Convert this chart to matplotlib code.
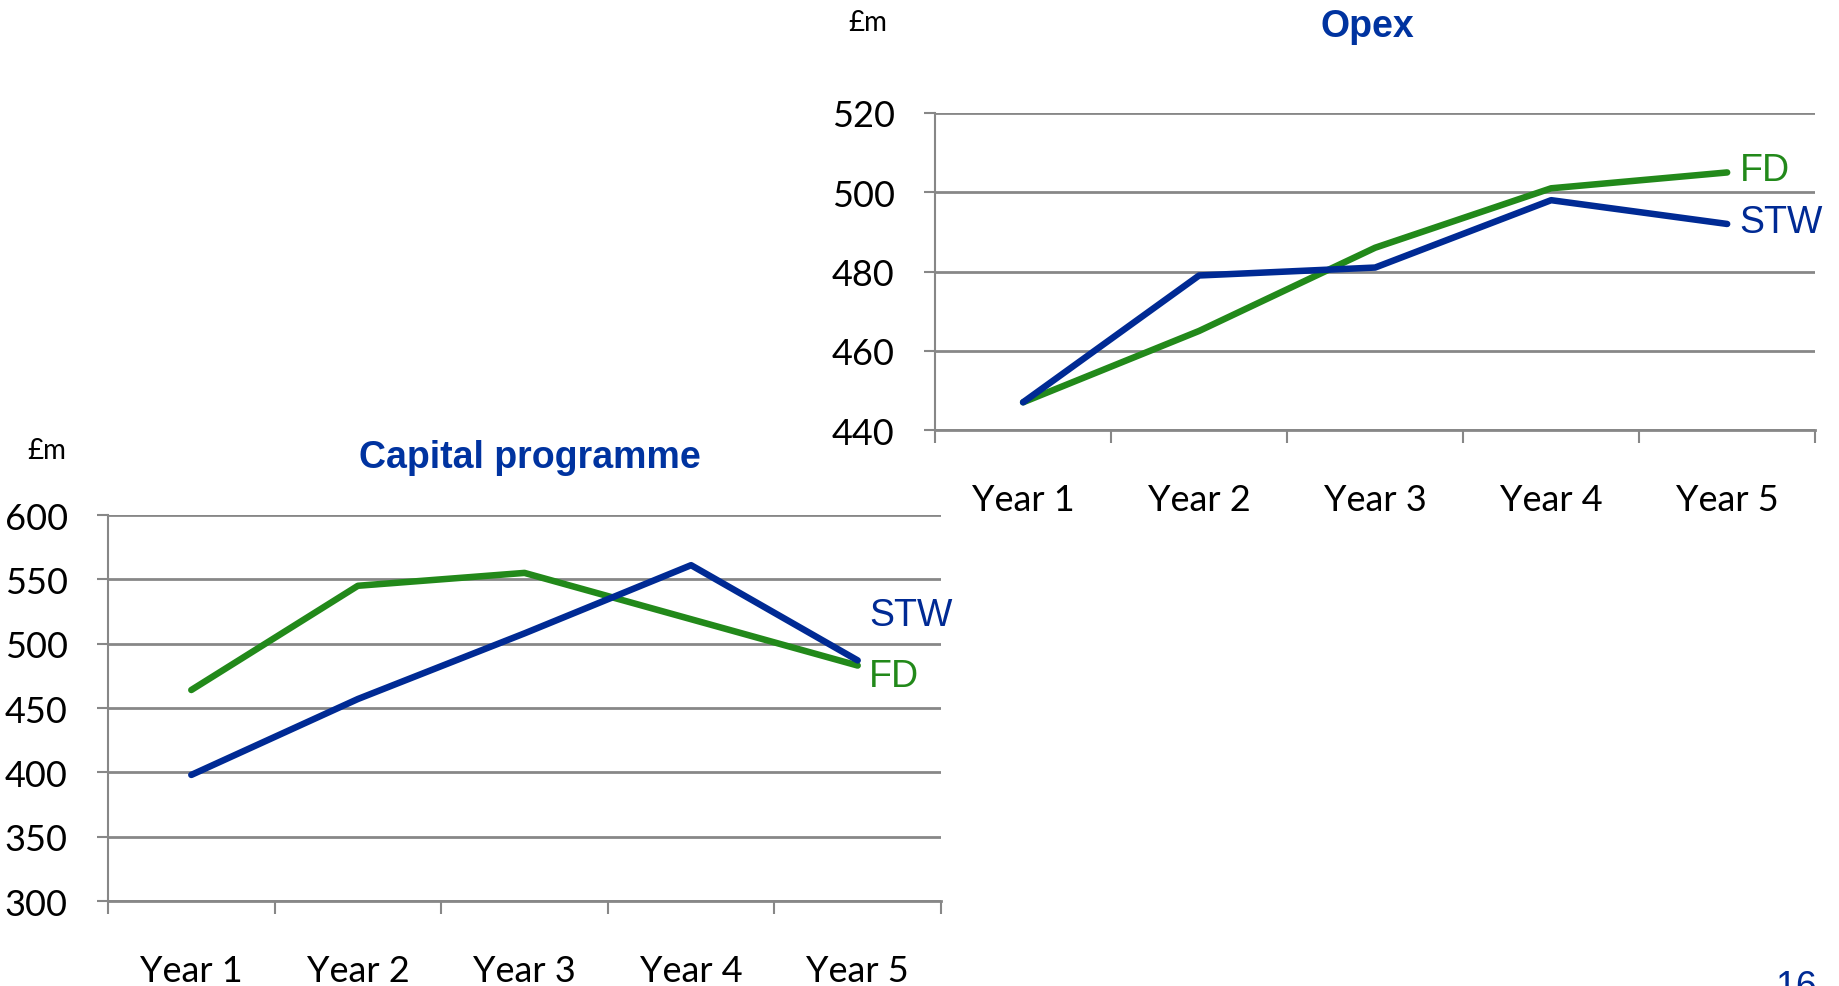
import matplotlib.pyplot as plt
import numpy as np

years = ["Year 1", "Year 2", "Year 3", "Year 4", "Year 5"]

opex_fd = [447, 465, 486, 501, 505]
opex_stw = [447, 479, 481, 498, 492]
opex_ticks = [440, 460, 480, 500, 520]

capex_fd = [464, 545, 555, 519, 483]
capex_stw = [398, 457, 508, 561, 487]
capex_ticks = [300, 350, 400, 450, 500, 550, 600]

green = "#22891a"
blue = "#002a94"
title_blue = "#0033a0"
grid_col = "#878787"
narrow = ["Lato", "DejaVu Sans"]
arial = ["Liberation Sans", "DejaVu Sans"]

fig = plt.figure(figsize=(18.4, 9.87), dpi=100)


def draw(ax, fd, stw, ticks, fd_lab_y, stw_lab_y, title, title_xy, unit_xy, ypad):
    x = np.arange(len(years))
    ax.plot(x, fd, color=green, lw=4.7, solid_capstyle="round", clip_on=False, zorder=3)
    ax.plot(x, stw, color=blue, lw=4.7, solid_capstyle="round", clip_on=False, zorder=4)
    ax.set_xlim(-0.5, len(years) - 0.5)
    ax.set_ylim(ticks[0], ticks[-1])
    ax.set_yticks(ticks)
    ax.set_yticklabels([str(t) for t in ticks], family=narrow, fontsize=26)
    ax.set_xticks(x)
    ax.set_xticklabels(years, family=narrow, fontsize=26)
    ax.set_xticks(np.arange(-0.5, len(years)), minor=True)
    ax.tick_params(axis="x", which="major", length=0, pad=38)
    ax.tick_params(axis="x", which="minor", length=9, width=1.5, color=grid_col)
    ax.tick_params(axis="y", length=8, width=1.5, color=grid_col, pad=ypad)
    for s in ["top", "right"]:
        ax.spines[s].set_visible(False)
    ax.spines["left"].set_color(grid_col)
    ax.spines["left"].set_linewidth(1.5)
    ax.spines["bottom"].set_color(grid_col)
    ax.spines["bottom"].set_linewidth(2)
    ax.grid(axis="y", color=grid_col, lw=2)
    ax.set_axisbelow(True)
    ax.text(4.07, fd_lab_y, "FD", color=green, fontsize=27, family=arial,
            va="center", ha="left", clip_on=False)
    ax.text(4.07, stw_lab_y, "STW", color=blue, fontsize=27, family=arial,
            va="center", ha="left", clip_on=False)
    fig.text(title_xy[0], title_xy[1], title, color=title_blue, fontsize=27,
             fontweight="bold", family=arial, ha="center", va="center")
    fig.text(unit_xy[0], unit_xy[1], "£m", color="black", fontsize=20,
             family=narrow, ha="center", va="center")


ax1 = fig.add_axes([0.5082, 0.5633, 0.4783, 0.3212])
draw(ax1, opex_fd, opex_stw, opex_ticks, 505.5, 492.4, "Opex",
     (1367 / 1840, 1 - 27 / 987), (868 / 1840, 1 - 23 / 987), 21)

ax2 = fig.add_axes([0.0587, 0.0861, 0.4527, 0.3911])
draw(ax2, capex_fd, capex_stw, capex_ticks, 475, 522.5, "Capital programme",
     (530 / 1840, 1 - 458 / 987), (47 / 1840, 1 - 451 / 987), 21)

fig.text(1796 / 1840, 1 - 970 / 987, "16", color=blue, fontsize=27,
         family=arial, ha="center", va="top")

fig.savefig("out.png", dpi=100)
